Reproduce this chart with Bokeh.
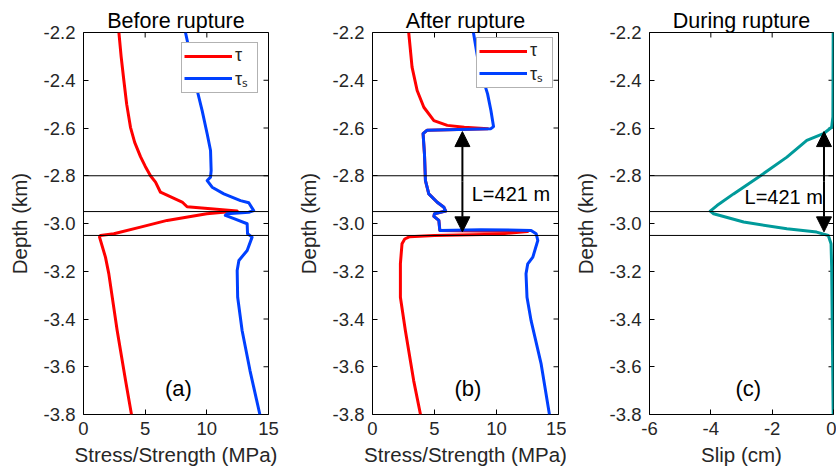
from bokeh.plotting import figure
from bokeh.layouts import row
from bokeh.models import (Range1d, FixedTicker, PrintfTickFormatter,
                          Span, Arrow, NormalHead, Label, Legend)
from bokeh.embed import file_html
from bokeh.resources import INLINE

# ---------------- data ----------------
# (a) before rupture: shear stress tau
a_tau_depth = [-2.2, -2.30, -2.40, -2.50, -2.597, -2.66, -2.72, -2.76, -2.80, -2.827, -2.869, -2.91, -2.93, -2.948,
               -2.959, -2.987, -3.015, -3.043, -3.05, -3.057, -3.141, -3.21, -3.448, -3.658, -3.80]
a_tau_val = [2.87, 3.05, 3.27, 3.5, 3.81, 4.15, 4.62, 5.0, 5.43, 5.84, 6.24, 8.0, 8.4, 12.46,
             10.0, 6.78, 4.62, 2.46, 1.38, 1.3, 1.78, 2.05, 2.73, 3.41, 3.89]
# (a) before rupture: strength tau_s
a_ts_depth = [-2.2, -2.33, -2.443, -2.527, -2.625, -2.694, -2.778, -2.806, -2.82, -2.848,
              -2.876, -2.904, -2.913, -2.946, -2.953, -2.959, -2.966, -2.98, -3.001, -3.043,
              -3.057, -3.113, -3.155, -3.197, -3.309, -3.448, -3.616, -3.80]
a_ts_val = [8.27, 8.81, 9.22, 9.62, 10.03, 10.3, 10.35, 10.3, 10.03, 10.43,
            11.38, 12.73, 13.4, 13.8, 13.4, 11.65, 11.5, 12.2, 13.27, 13.3,
            13.67, 13.27, 12.6, 12.46, 12.5, 12.86, 13.5, 14.3]

# (b) after rupture: strength tau_s
b_ts_depth = [-2.2, -2.304, -2.388, -2.457, -2.527, -2.594, -2.603, -2.609, -2.624, -2.708,
              -2.82, -2.876, -2.911, -2.932, -2.948, -2.959, -2.97, -2.987, -3.029, -3.026,
              -3.029, -3.043, -3.071, -3.141, -3.169, -3.21, -3.309, -3.407, -3.588, -3.80]
b_ts_val = [8.14, 8.47, 8.87, 9.28, 9.55, 9.76, 9.55, 4.41, 4.08, 4.19,
            4.27, 4.54, 5.22, 5.76, 5.9, 5.0, 4.95, 5.35, 5.43, 8.73,
            12.79, 13.2, 13.33, 12.93, 12.52, 12.38, 12.46, 12.79, 13.6, 14.27]
# (b) after rupture: shear stress tau
b_tau_depth = [-2.2, -2.345, -2.443, -2.513, -2.569, -2.589, -2.597, -2.603, -2.609, -2.624,
               -2.708, -2.82, -2.876, -2.911, -2.932, -2.948, -2.959, -2.97, -2.987, -3.029,
               -3.034, -3.045, -3.050, -3.055, -3.065, -3.085, -3.168, -3.309, -3.448, -3.658, -3.80]
b_tau_val = [2.92, 3.19, 3.6, 4.14, 4.95, 6.03, 7.4, 9.3, 4.41, 4.08,
             4.19, 4.27, 4.54, 5.22, 5.76, 5.9, 5.0, 4.95, 5.35, 5.43,
             12.5, 10.0, 5.0, 3.0, 2.6, 2.38, 2.25, 2.25, 2.65, 3.32, 3.87]

# (c) during rupture: slip
c_depth = [-2.2, -2.554, -2.597, -2.624, -2.652, -2.722, -2.80, -2.876, -2.925, -2.948,
           -2.959, -2.994, -3.022, -3.036, -3.05, -3.085, -3.182, -3.80]
c_slip = [-0.01, -0.02, -0.06, -0.33, -0.87, -1.52, -2.38, -3.26, -3.80, -4.02,
          -3.91, -2.93, -1.52, -0.55, -0.17, -0.08, -0.06, -0.01]

fault_depths = [-2.8, -2.95, -3.05]
rupture_top, rupture_bottom = -2.615, -3.035
rupture_label = "L=421 m"

stress_ticks = [0, 5, 10, 15]
slip_ticks = [-6, -4, -2, 0]
depth_ticks = [-2.2, -2.4, -2.6, -2.8, -3.0, -3.2, -3.4, -3.6, -3.8]
depth_range = (-3.8, -2.2)

FONT = "Liberation Sans"
TXT = "#262626"
RED = "#ff0000"
BLUE = "#0040ff"
TEAL = "#009a9a"


def make_panel(title, width, left, right, xr, xticks, xlabel):
    p = figure(width=width, height=472, output_backend="svg", toolbar_location=None,
               x_range=Range1d(*xr), y_range=Range1d(*depth_range),
               min_border_left=left, min_border_right=right,
               min_border_top=32, min_border_bottom=58)
    p.xgrid.visible = False
    p.ygrid.visible = False
    p.outline_line_color = "black"
    p.outline_line_width = 1
    p.background_fill_color = "white"
    p.border_fill_color = "white"
    p.title.text = title
    p.title.align = "center"
    p.title.text_font = FONT
    p.title.text_font_size = "21.5px"
    p.title.text_font_style = "normal"
    p.title.text_color = "black"
    p.title.standoff = 0
    p.title.offset = 0

    for ax in (p.xaxis[0], p.yaxis[0]):
        ax.major_tick_in = 5
        ax.major_tick_out = 0
        ax.minor_tick_line_color = None
        ax.axis_line_color = None
        ax.major_tick_line_color = "black"
        ax.major_label_text_font = FONT
        ax.major_label_text_font_size = "18.5px"
        ax.major_label_text_color = TXT
        ax.axis_label_text_font = FONT
        ax.axis_label_text_font_size = "20.5px"
        ax.axis_label_text_font_style = "normal"
        ax.axis_label_text_color = TXT
    p.xaxis.ticker = FixedTicker(ticks=xticks)
    p.xaxis.formatter = PrintfTickFormatter(format="%d")
    p.yaxis.ticker = FixedTicker(ticks=depth_ticks)
    p.yaxis.formatter = PrintfTickFormatter(format="%.1f")
    p.xaxis.axis_label = xlabel
    p.yaxis.axis_label = "Depth (km)"
    p.xaxis.major_label_standoff = 7
    p.yaxis.major_label_standoff = 8
    p.xaxis.axis_label_standoff = 5
    p.yaxis.axis_label_standoff = 10

    # tick marks on the top and right edges (box on), half-clipped dashes
    p.scatter(xticks, [depth_range[1]] * len(xticks), marker="dash", angle=1.5708,
              size=10, line_color="black", line_width=1)
    p.scatter([xr[1]] * len(depth_ticks), depth_ticks, marker="dash",
              size=10, line_color="black", line_width=1)

    for d in fault_depths:
        p.add_layout(Span(location=d, dimension="width", line_color="black", line_width=1))
    return p


def add_legend(p, r_tau, r_ts, margin):
    leg = Legend(items=[("τ", [r_tau]), ("τₛ", [r_ts])], location="top_right",
                 border_line_color="#666666", border_line_width=1,
                 background_fill_color="white", background_fill_alpha=1,
                 label_text_font=FONT, label_text_font_size="18px", label_text_color=TXT,
                 glyph_width=48, glyph_height=16, label_height=16, label_standoff=3,
                 spacing=0, padding=2, margin=margin)
    p.add_layout(leg)


def add_label(p, x, y, text, size="22px", align="center"):
    p.add_layout(Label(x=x, y=y, text=text, text_font=FONT, text_font_size=size,
                       text_color="black", text_align=align, text_baseline="middle"))


def add_arrow(p, x):
    mid = (rupture_top + rupture_bottom) / 2
    for end in (rupture_top, rupture_bottom):
        p.add_layout(Arrow(x_start=x, y_start=mid, x_end=x, y_end=end,
                           line_width=2, line_color="black",
                           end=NormalHead(size=15, fill_color="black", line_color="black")))


# panel (a)
pa = make_panel("Before rupture", 280, 83, 12, (0, 15), stress_ticks, "Stress/Strength (MPa)")
ra1 = pa.line(a_tau_val, a_tau_depth, line_color=RED, line_width=3, line_join="round")
ra2 = pa.line(a_ts_val, a_ts_depth, line_color=BLUE, line_width=3, line_join="round")
add_legend(pa, ra1, ra2, 10)
add_label(pa, 7.7, -3.69, "(a)")

# panel (b)
pb = make_panel("After rupture", 286, 92, 8, (0, 15), stress_ticks, "Stress/Strength (MPa)")
rb1 = pb.line(b_tau_val, b_tau_depth, line_color=RED, line_width=3, line_join="round")
rb2 = pb.line(b_ts_val, b_ts_depth, line_color=BLUE, line_width=3, line_join="round")
add_legend(pb, rb1, rb2, 5)
add_label(pb, 7.7, -3.69, "(b)")
add_arrow(pb, 7.25)
add_label(pb, 8.0, -2.876, rupture_label, size="20px", align="left")

# panel (c)
pc = make_panel("During rupture", 270, 83, 3, (-6, 0), slip_ticks, "Slip (cm)")
pc.line(c_slip, c_depth, line_color=TEAL, line_width=3, line_join="round")
add_label(pc, -2.78, -3.69, "(c)")
add_arrow(pc, -0.31)
add_label(pc, -2.9, -2.89, rupture_label, size="20px", align="left")

layout = row(pa, pb, pc, spacing=0)
open("out.html", "w").write(file_html(layout, INLINE))
